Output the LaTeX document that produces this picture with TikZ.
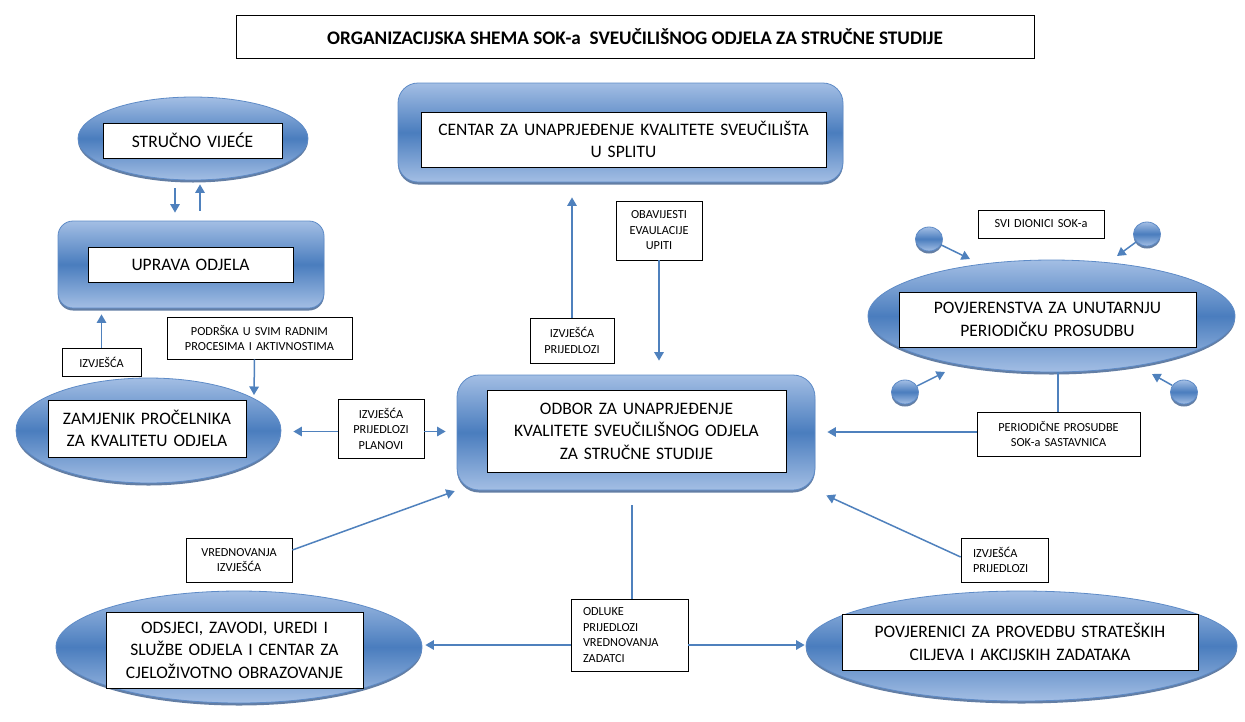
\documentclass[tikz,border=0pt]{standalone}
\usepackage{fontspec}
\setmainfont{Carlito}
\usetikzlibrary{shapes.geometric,shadows,arrows.meta}
\definecolor{lb}{HTML}{A3BEE4}
\definecolor{db}{HTML}{4A7DBE}
\definecolor{edgec}{HTML}{5E8BC7}
\definecolor{arrc}{HTML}{4F81BD}
\definecolor{shc}{HTML}{2F5386}
\begin{document}
\begin{tikzpicture}[x=1pt,y=-1pt,
  outer/.style={shade, top color=lb, bottom color=lb, middle color=db, draw=edgec, line width=0.8pt,
    drop shadow={shadow xshift=0pt, shadow yshift=-2.5pt, opacity=0.75, fill=shc}, inner sep=0pt},
  ell/.style={outer, ellipse},
  rr/.style={outer, rounded corners=18pt},
  inbox/.style={draw=black, fill=white, line width=0.8pt, align=center, inner sep=0pt,
    font=\fontsize{17.5}{22.5}\selectfont},
  lab/.style={draw=black, fill=white, line width=0.7pt, align=center, inner sep=0pt,
    font=\fontsize{12.3}{15.5}\selectfont},
  labl/.style={lab, align=left, inner xsep=12pt},
  arr/.style={draw=arrc, line width=1.5pt, -{Triangle[width=9.5pt,length=8.5pt]}},
  ln/.style={draw=arrc, line width=1.6pt}
]
\fill[white] (0,0) rectangle (1245,721);
\useasboundingbox (0,0) rectangle (1245,721);

% title
\node[draw=black, line width=0.8pt, minimum width=798pt, minimum height=43pt, inner sep=0pt,
  font=\fontsize{19.2}{22}\selectfont\bfseries] (title) at (635,36.5)
  {ORGANIZACIJSKA SHEMA SOK-a~ SVEUČILIŠNOG ODJELA ZA STRUČNE STUDIJE};

% outer shapes
\node[ell, minimum width=230pt, minimum height=83pt] (sv) at (193,138.5) {};
\node[rr, rounded corners=15pt, minimum width=266pt, minimum height=87pt] (up) at (191,264.5) {};
\node[rr, rounded corners=20pt, minimum width=445pt, minimum height=99pt] (cen) at (620.5,132.5) {};
\node[rr, rounded corners=22pt, minimum width=358pt, minimum height=115pt] (odb) at (636,432.5) {};
\node[ell, minimum width=367pt, minimum height=112pt] (pov) at (1051.5,316) {};
\node[ell, minimum width=265pt, minimum height=105pt] (zam) at (148.5,430.5) {};
\node[ell, minimum width=366pt, minimum height=112pt] (ods) at (239,647) {};
\node[ell, minimum width=431pt, minimum height=110pt] (pvc) at (1021.5,646) {};

% small circles
\node[ell, minimum width=27pt, minimum height=24pt] (c1) at (929,239) {};
\node[ell, minimum width=27pt, minimum height=24pt] (c2) at (1147,234) {};
\node[ell, minimum width=27pt, minimum height=24pt] (c3) at (905,392) {};
\node[ell, minimum width=27pt, minimum height=24pt] (c4) at (1184,392) {};

% inner boxes
\node[inbox, text width=179pt, minimum height=35pt] (svb) at (192.5,140.5) {STRUČNO VIJEĆE};
\node[inbox, text width=205pt, minimum height=35pt] (upb) at (190.5,264.5) {UPRAVA ODJELA};
\node[inbox, text width=405pt, minimum height=55pt] (cenb) at (623.5,139.5)
  {CENTAR ZA UNAPRJEĐENJE KVALITETE SVEUČILIŠTA\\U SPLITU};
\node[inbox, text width=299pt, minimum height=82pt] (odbb) at (636.5,431)
  {ODBOR ZA UNAPRJEĐENJE\\KVALITETE SVEUČILIŠNOG ODJELA\\ZA STRUČNE STUDIJE};
\node[inbox, text width=297pt, minimum height=55pt] (povb) at (1047.5,319.5)
  {POVJERENSTVA ZA UNUTARNJU\\PERIODIČKU PROSUDBU};
\node[inbox, text width=198pt, minimum height=57pt] (zamb) at (147,428.5)
  {ZAMJENIK PROČELNIKA\\ZA KVALITETU ODJELA};
\node[inbox, text width=257pt, minimum height=76pt] (odsb) at (234.5,650)
  {ODSJECI, ZAVODI, UREDI I\\SLUŽBE ODJELA I CENTAR ZA\\CJELOŽIVOTNO OBRAZOVANJE};
\node[inbox, text width=356pt, minimum height=56pt] (pvcb) at (1020,642)
  {POVJERENICI ZA PROVEDBU STRATEŠKIH\\CILJEVA I AKCIJSKIH ZADATAKA};

% labels
\node[lab, text width=79pt, minimum height=28pt] (izv1) at (101.5,362) {IZVJEŠĆA};
\node[lab, text width=185pt, minimum height=42pt] (pod) at (259.5,338)
  {PODRŠKA U SVIM RADNIM\\PROCESIMA I AKTIVNOSTIMA};
\node[lab, text width=86pt, minimum height=59pt] (ipp) at (381,428.5) {IZVJEŠĆA\\PRIJEDLOZI\\PLANOVI};
\node[lab, text width=84pt, minimum height=45pt] (izv2) at (572,340.5) {IZVJEŠĆA\\PRIJEDLOZI};
\node[lab, text width=86pt, minimum height=59pt] (obav) at (659,230.5) {OBAVIJESTI\\EVAULACIJE\\UPITI};
\node[lab, text width=126pt, minimum height=28pt] (svi) at (1041,224) {SVI DIONICI SOK-a};
\node[lab, text width=163pt, minimum height=44pt] (per) at (1058.5,434)
  {PERIODIČNE PROSUDBE\\SOK-a SASTAVNICA};
\node[lab, text width=106pt, minimum height=44pt] (vred) at (239,560) {VREDNOVANJA\\IZVJEŠĆA};
\node[labl, text width=93pt, minimum height=72pt] (odl) at (629.5,635)
  {ODLUKE\\PRIJEDLOZI\\VREDNOVANJA\\ZADATCI};
\node[labl, text width=63pt, minimum height=44pt] (izv3) at (1004.5,560) {IZVJEŠĆA\\PRIJEDLOZI};

% coordinates for free ends
\coordinate (zamtip) at (254,395);
\coordinate (t1) at (970,259);
\coordinate (t2) at (1117,256);
\coordinate (t3) at (945,372);
\coordinate (t4) at (1152,374);

% connectors
\draw[arr, shorten <=8pt, shorten >=8pt] ([xshift=-18pt]sv.south) -- ([xshift=-18pt]sv.south |- up.north);
\draw[arr, shorten <=10pt, shorten >=4pt] ([xshift=9pt]up.north) -- ([xshift=9pt]up.north |- sv.south);
\draw[arr, shorten >=6pt] (izv1.north) -- (izv1.north |- up.south);
\draw[arr] ([xshift=-5pt]pod.south) -- (zamtip);
\draw[arr, shorten >=12pt] ([yshift=-3pt]ipp.west) -- ([yshift=-3pt]ipp.west -| zam.east);
\draw[arr, shorten >=11pt] ([yshift=-3pt]ipp.east) -- ([yshift=-3pt]ipp.east -| odb.west);
\draw[arr, shorten >=15pt] (izv2.north) -- (izv2.north |- cen.south);
\draw[arr, shorten >=14pt] (obav.south) -- (obav.south |- odb.north);
\draw[arr] (c1) -- (t1);
\draw[arr] (c2) -- (t2);
\draw[arr] (c3) -- (t3);
\draw[arr] (c4) -- (t4);
\draw[ln] ([xshift=-0.5pt]per.north) -- ([xshift=-0.5pt]per.north |- pov.south);
\draw[arr, shorten >=12pt] ([yshift=2pt]per.west) -- ([yshift=2pt]per.west -| odb.east);
\draw[arr, shorten >=2pt] ([yshift=10pt]vred.east) -- (odb.south west);
\draw[arr, shorten >=12pt] ([yshift=3pt]izv3.west) -- (odb.south east);
\draw[ln, shorten >=15pt] ([xshift=2.5pt]odl.north) -- ([xshift=2.5pt]odl.north |- odb.south);
\draw[arr, shorten >=3pt] ([yshift=-10pt]odl.west) -- ([yshift=-10pt]odl.west -| ods.east);
\draw[arr, shorten >=1pt] ([yshift=-10pt]odl.east) -- ([yshift=-10pt]odl.east -| pvc.west);
\end{tikzpicture}
\end{document}
